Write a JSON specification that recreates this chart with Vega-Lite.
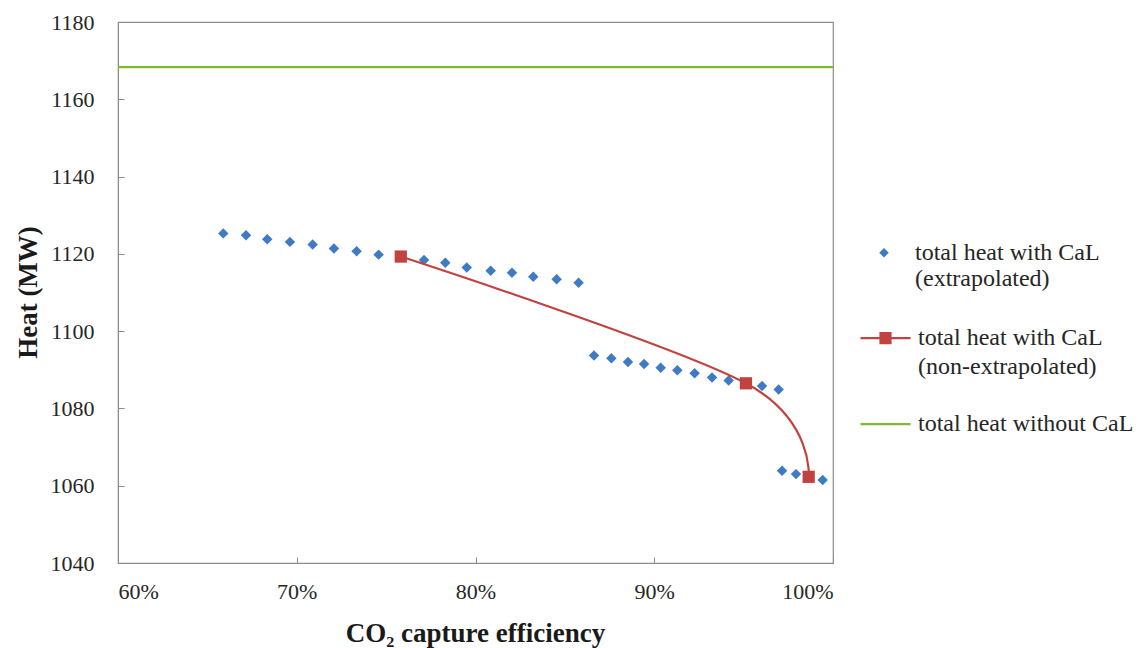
{
  "$schema": "https://vega.github.io/schema/vega-lite/v6.json",
  "width": 715,
  "height": 541,
  "autosize": {"type": "none"},
  "padding": {"left": 118, "top": 22, "right": 313, "bottom": 85},
  "background": "white",
  "config": {
    "view": {"stroke": "#8c8c8c", "strokeWidth": 1.2},
    "font": "Liberation Serif",
    "axis": {
      "grid": false,
      "domainColor": "#8c8c8c",
      "tickColor": "#8c8c8c",
      "labelFont": "Liberation Serif",
      "labelFontSize": 22,
      "labelColor": "#262626",
      "titleFont": "Liberation Serif",
      "titleFontSize": 27,
      "titleFontWeight": "bold",
      "titleColor": "#1a1a1a"
    },
    "legend": {
      "orient": "none",
      "title": null,
      "symbolSize": 2500,
      "labelOffset": 6,
      "labelFont": "Liberation Serif",
      "labelFontSize": 24,
      "labelColor": "#262626",
      "labelLimit": 400
    }
  },
  "datasets": {
    "pts": [
      {"series": "ext", "x": 65.89, "y": 1125.3},
      {"series": "ext", "x": 67.16, "y": 1124.8},
      {"series": "ext", "x": 68.35, "y": 1123.8},
      {"series": "ext", "x": 69.62, "y": 1123.1},
      {"series": "ext", "x": 70.89, "y": 1122.4},
      {"series": "ext", "x": 72.08, "y": 1121.4},
      {"series": "ext", "x": 73.35, "y": 1120.7},
      {"series": "ext", "x": 74.58, "y": 1119.8},
      {"series": "ext", "x": 77.12, "y": 1118.4},
      {"series": "ext", "x": 78.31, "y": 1117.7},
      {"series": "ext", "x": 79.51, "y": 1116.5},
      {"series": "ext", "x": 80.85, "y": 1115.6},
      {"series": "ext", "x": 82.04, "y": 1115.1},
      {"series": "ext", "x": 83.23, "y": 1114.1},
      {"series": "ext", "x": 84.54, "y": 1113.4},
      {"series": "ext", "x": 85.77, "y": 1112.5},
      {"series": "ext", "x": 86.63, "y": 1093.7},
      {"series": "ext", "x": 87.60, "y": 1093.0},
      {"series": "ext", "x": 88.53, "y": 1092.0},
      {"series": "ext", "x": 89.43, "y": 1091.5},
      {"series": "ext", "x": 90.36, "y": 1090.5},
      {"series": "ext", "x": 91.29, "y": 1089.9},
      {"series": "ext", "x": 92.26, "y": 1089.1},
      {"series": "ext", "x": 93.23, "y": 1088.0},
      {"series": "ext", "x": 94.16, "y": 1087.2},
      {"series": "ext", "x": 96.03, "y": 1085.8},
      {"series": "ext", "x": 96.96, "y": 1084.9},
      {"series": "ext", "x": 97.15, "y": 1063.9},
      {"series": "ext", "x": 97.93, "y": 1063.0},
      {"series": "ext", "x": 99.42, "y": 1061.5},
      {"series": "non", "x": 75.82, "y": 1119.3},
      {"series": "non", "x": 95.13, "y": 1086.5},
      {"series": "non", "x": 98.64, "y": 1062.3}
    ],
    "base": [
      {"series": "without", "y": 1168.3}
    ]
  },
  "layer": [
    {
      "data": {"name": "base"},
      "mark": {"type": "rule", "strokeWidth": 2.2},
      "encoding": {
        "y": {"field": "y", "type": "quantitative"},
        "color": {
          "field": "series",
          "type": "nominal",
          "scale": {"domain": ["without"], "range": ["#7DBB2F"]},
          "legend": {
            "legendX": 741,
            "legendY": 375.7,
            "symbolType": "M-1,0L1,0",
            "symbolStrokeWidth": 2.2,
            "labelExpr": "'total heat without CaL'"
          }
        }
      }
    },
    {
      "data": {"name": "pts"},
      "transform": [{"filter": "datum.series == 'ext'"}],
      "mark": {"type": "point", "shape": "diamond", "filled": true, "size": 110, "opacity": 1},
      "encoding": {
        "x": {
          "field": "x",
          "type": "quantitative",
          "scale": {"domain": [60, 100], "nice": false},
          "axis": {
            "values": [60, 70, 80, 90, 100],
            "labelExpr": "datum.value + '%'",
            "tickSize": -6,
            "labelPadding": 24.5,
            "title": "CO₂ capture efficiency",
            "titleX": 357,
            "titleY": 70,
            "titleAlign": "center",
            "titleBaseline": "middle"
          }
        },
        "y": {
          "field": "y",
          "type": "quantitative",
          "scale": {"domain": [1040, 1180], "nice": false, "zero": false},
          "axis": {
            "values": [1040, 1060, 1080, 1100, 1120, 1140, 1160, 1180],
            "format": "d",
            "tickSize": -6,
            "labelPadding": 30,
            "title": "Heat (MW)",
            "titleX": -90,
            "titleY": 270,
            "titleAlign": "center",
            "titleBaseline": "middle"
          }
        },
        "color": {
          "field": "series",
          "type": "nominal",
          "scale": {"domain": ["ext"], "range": ["#3F7BC4"]},
          "legend": {
            "legendX": 741,
            "legendY": 205.7,
            "symbolType": "M0,-0.19L0.19,0L0,0.19L-0.19,0Z",
            "symbolStrokeWidth": 0,
            "labelBaseline": "middle",
            "labelExpr": "['total heat with CaL', '(extrapolated)']",
            "encode": {"labels": {"update": {"dy": {"value": 14.5}, "lineHeight": {"value": 29}}}}
          }
        }
      }
    },
    {
      "data": {"name": "pts"},
      "transform": [{"filter": "datum.series == 'non'"}],
      "mark": {
        "type": "line",
        "interpolate": "cardinal",
        "strokeWidth": 2.2,
        "point": {"shape": "square", "filled": true, "size": 150, "opacity": 1}
      },
      "encoding": {
        "x": {"field": "x", "type": "quantitative"},
        "y": {"field": "y", "type": "quantitative"},
        "color": {
          "field": "series",
          "type": "nominal",
          "scale": {"domain": ["non"], "range": ["#C0433F"]},
          "legend": {
            "legendX": 741,
            "legendY": 289.7,
            "symbolType": "M-1,0L1,0M-0.2,-0.2L0.2,-0.2L0.2,0.2L-0.2,0.2Z",
            "symbolStrokeWidth": 2.2,
            "symbolFillColor": "#C0433F",
            "labelBaseline": "middle",
            "labelExpr": "['total heat with CaL', '(non-extrapolated)']",
            "encode": {
              "labels": {"update": {"dy": {"value": 0}, "lineHeight": {"value": 29}}},
              "symbols": {"update": {"fill": {"value": "#C0433F"}, "fillOpacity": {"value": 1}}}
            }
          }
        }
      }
    }
  ],
  "resolve": {"scale": {"color": "independent"}}
}
